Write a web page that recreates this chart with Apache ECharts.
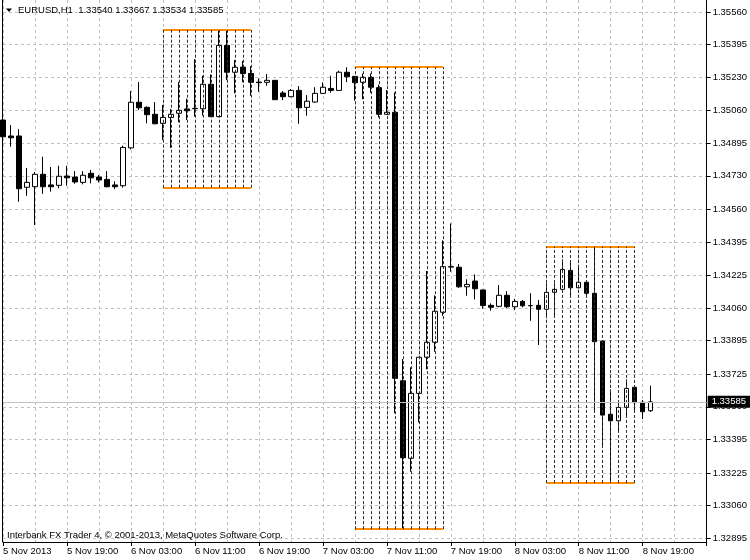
<!DOCTYPE html>
<html>
<head>
<meta charset="utf-8">
<script src="https://cdn.jsdelivr.net/npm/echarts@6/dist/echarts.min.js"></script>
<style>html,body{margin:0;padding:0;background:#fff}#c{width:750px;height:560px}</style>
</head>
<body>
<div id="c"></div>
<script>
const categories = [
'5 Nov 11:00','5 Nov 12:00','5 Nov 13:00','5 Nov 14:00','5 Nov 15:00','5 Nov 16:00','5 Nov 17:00','5 Nov 18:00','5 Nov 19:00','5 Nov 20:00','5 Nov 21:00','5 Nov 22:00','5 Nov 23:00',
'6 Nov 00:00','6 Nov 01:00','6 Nov 02:00','6 Nov 03:00','6 Nov 04:00','6 Nov 05:00','6 Nov 06:00','6 Nov 07:00','6 Nov 08:00','6 Nov 09:00','6 Nov 10:00','6 Nov 11:00',
'6 Nov 12:00','6 Nov 13:00','6 Nov 14:00','6 Nov 15:00','6 Nov 16:00','6 Nov 17:00','6 Nov 18:00','6 Nov 19:00','6 Nov 20:00','6 Nov 21:00','6 Nov 22:00','6 Nov 23:00',
'7 Nov 00:00','7 Nov 01:00','7 Nov 02:00','7 Nov 03:00','7 Nov 04:00','7 Nov 05:00','7 Nov 06:00','7 Nov 07:00','7 Nov 08:00','7 Nov 09:00','7 Nov 10:00','7 Nov 11:00',
'7 Nov 12:00','7 Nov 13:00','7 Nov 14:00','7 Nov 15:00','7 Nov 16:00','7 Nov 17:00','7 Nov 18:00','7 Nov 19:00','7 Nov 20:00','7 Nov 21:00','7 Nov 22:00','7 Nov 23:00',
'8 Nov 00:00','8 Nov 01:00','8 Nov 02:00','8 Nov 03:00','8 Nov 04:00','8 Nov 05:00','8 Nov 06:00','8 Nov 07:00','8 Nov 08:00','8 Nov 09:00','8 Nov 10:00','8 Nov 11:00',
'8 Nov 12:00','8 Nov 13:00','8 Nov 14:00','8 Nov 15:00','8 Nov 16:00','8 Nov 17:00','8 Nov 18:00','8 Nov 19:00','8 Nov 20:00','8 Nov 21:00','8 Nov 22:00','8 Nov 23:00',
'9 Nov 00:00','9 Nov 01:00','9 Nov 02:00','9 Nov 03:00'
];
const xTickLabels = ['5 Nov 2013','5 Nov 19:00','6 Nov 03:00','6 Nov 11:00','6 Nov 19:00','7 Nov 03:00','7 Nov 11:00','7 Nov 19:00','8 Nov 03:00','8 Nov 11:00','8 Nov 19:00'];
const yTicks = [1.32895,1.33060,1.33225,1.33395,1.33560,1.33725,1.33895,1.34060,1.34225,1.34395,1.34560,1.34730,1.34895,1.35060,1.35230,1.35395,1.35560];

const opens = [1.35013,1.34932,1.34932,1.34672,1.34675,1.34738,1.34684,1.34682,1.34729,1.34724,
1.34697,1.34743,1.34724,1.34712,1.34684,1.34680,1.34872,1.35103,1.35077,1.35042,
1.34996,1.35026,1.35047,1.35069,1.35070,1.35070,1.35194,1.35030,1.35391,1.35255,
1.35281,1.35249,1.35205,1.35204,1.35214,1.35150,1.35131,1.35163,1.35077,1.35104,
1.35148,1.35173,1.35163,1.35255,1.35234,1.35204,1.35229,1.35177,1.35042,1.35052,
1.33692,1.33299,1.33628,1.33811,1.33887,1.34039,1.34270,1.34267,1.34168,1.34197,
1.34152,1.34074,1.34069,1.34125,1.34067,1.34094,1.34073,1.34074,1.34054,1.34140,
1.34155,1.34251,1.34163,1.34191,1.34135,1.33893,1.33522,1.33489,1.33557,1.33659,
1.33583,1.33540];
const highs = [1.35033,1.34987,1.34967,1.34770,1.34749,1.34827,1.34775,1.34781,1.34781,1.34754,
1.34754,1.34760,1.34734,1.34754,1.34702,1.34883,1.35160,1.35205,1.35082,1.35104,
1.35089,1.35069,1.35205,1.35121,1.35322,1.35237,1.35244,1.35469,1.35469,1.35317,
1.35312,1.35286,1.35224,1.35246,1.35215,1.35160,1.35170,1.35185,1.35139,1.35179,
1.35204,1.35237,1.35263,1.35280,1.35236,1.35249,1.35249,1.35192,1.35165,1.35153,
1.33802,1.33760,1.33811,1.34248,1.34125,1.34403,1.34489,1.34283,1.34206,1.34231,
1.34153,1.34084,1.34177,1.34146,1.34107,1.34101,1.34135,1.34101,1.34185,1.34185,
1.34307,1.34290,1.34273,1.34202,1.34371,1.33893,1.33648,1.33594,1.33699,1.33660,
1.33594,1.33667];
const lows = [1.34857,1.34878,1.34599,1.34629,1.34481,1.34639,1.34650,1.34667,1.34680,1.34690,
1.34687,1.34692,1.34697,1.34672,1.34663,1.34670,1.34864,1.35064,1.34996,1.34992,
1.34911,1.34872,1.35001,1.35013,1.35030,1.35035,1.35030,1.35027,1.35215,1.35148,
1.35204,1.35136,1.35156,1.35187,1.35114,1.35114,1.35129,1.34994,1.35035,1.35100,
1.35145,1.35151,1.35162,1.35205,1.35111,1.35118,1.35151,1.35026,1.35041,1.33527,
1.32940,1.33231,1.33481,1.33750,1.33839,1.34021,1.34244,1.34163,1.34123,1.34104,
1.34057,1.34047,1.34064,1.34059,1.34050,1.34064,1.33996,1.33873,1.34020,1.34021,
1.34138,1.34115,1.34162,1.34115,1.33535,1.33353,1.33174,1.33442,1.33505,1.33535,
1.33498,1.33534];
const closes = [1.34928,1.34923,1.34665,1.34697,1.34738,1.34675,1.34675,1.34728,1.34720,1.34699,
1.34733,1.34720,1.34709,1.34675,1.34675,1.34874,1.35103,1.35075,1.35040,1.34994,
1.35026,1.35042,1.35062,1.35060,1.35072,1.35194,1.35030,1.35391,1.35255,1.35280,
1.35248,1.35204,1.35202,1.35214,1.35116,1.35131,1.35163,1.35075,1.35108,1.35148,
1.35179,1.35163,1.35255,1.35232,1.35202,1.35229,1.35179,1.35042,1.35052,1.33704,
1.33302,1.33628,1.33811,1.33887,1.34044,1.34270,1.34268,1.34168,1.34180,1.34158,
1.34073,1.34064,1.34125,1.34067,1.34094,1.34072,1.34072,1.34054,1.34140,1.34155,
1.34256,1.34163,1.34191,1.34135,1.33890,1.33518,1.33489,1.33557,1.33653,1.33581,
1.33535,1.33585];

const regionStart = [20, 44, 68];
const regionEnd = [31, 55, 79];
const regionHigh = [1.35469, 1.35281, 1.34372];
const regionLow = [1.34670, 1.32940, 1.33174];

const symbolName = 'EURUSD,H1';
const lastBar = { open: 1.33540, high: 1.33667, low: 1.33534, close: 1.33585 };
const copyright = 'Interbank FX Trader 4, \u00a9 2001-2013, MetaQuotes Software Corp.';

const FONT = 'Liberation Sans';
const FS = 9.5;

const candleData = opens.map((o, i) => [o, closes[i], lows[i], highs[i]]);
const lastIndex = categories.length - 1;

const regionLines = [];
regionStart.forEach((s, r) => {
  const e = regionEnd[r];
  const orange = { color: '#ff8c00', width: 2, type: 'solid' };
  regionLines.push([{ coord: [s, regionHigh[r]], lineStyle: orange }, { coord: [e, regionHigh[r]] }]);
  regionLines.push([{ coord: [s, regionLow[r]], lineStyle: orange }, { coord: [e, regionLow[r]] }]);
  for (let k = s; k <= e; k++) {
    regionLines.push([
      { coord: [k, regionLow[r]], lineStyle: { color: '#223333', width: 1, type: [3, 2] } },
      { coord: [k, regionHigh[r]] }
    ]);
  }
});

const chart = echarts.init(document.getElementById('c'));
chart.setOption({
  animation: false,
  backgroundColor: '#ffffff',
  textStyle: { fontFamily: FONT },
  grid: { left: 3, right: 43, top: 0, bottom: 18, containLabel: false },
  xAxis: {
    type: 'category',
    data: categories,
    boundaryGap: false,
    axisLine: { show: true, lineStyle: { color: '#000', width: 1 } },
    axisTick: { show: true, interval: 7, length: 4, lineStyle: { color: '#000' } },
    axisLabel: {
      interval: 7, align: 'left', margin: 4, color: '#000', fontSize: FS, fontFamily: FONT,
      formatter: (v, i) => (i % 8 === 0 && xTickLabels[i / 8]) ? xTickLabels[i / 8] : ''
    },
    splitLine: { show: true, interval: 3, lineStyle: { color: '#c0c0c0', type: [3, 3], width: 1 } }
  },
  yAxis: {
    type: 'value',
    position: 'right',
    min: 1.32875,
    max: 1.35621,
    axisLine: { show: true, onZero: false, lineStyle: { color: '#000', width: 1 } },
    axisTick: { show: true, length: 4, customValues: yTicks, lineStyle: { color: '#000' } },
    axisLabel: { customValues: yTicks, margin: 6, color: '#000', fontSize: FS, fontFamily: FONT,
      formatter: v => v.toFixed(5) },
    splitLine: { show: true, lineStyle: { color: '#c0c0c0', type: [3, 3], width: 1 } }
  },
  series: [
    {
      name: 'regions', type: 'line', data: [], z: 1, silent: true,
      markLine: { silent: true, symbol: 'none', animation: false, label: { show: false }, data: regionLines }
    },
    {
      name: 'bid', type: 'line', data: [], z: 1, silent: true,
      markLine: {
        silent: true, symbol: 'none', animation: false,
        lineStyle: { color: '#c0c0c0', type: 'solid', width: 1 },
        label: { show: true, position: 'end', distance: 1, color: '#fff', backgroundColor: '#000',
          padding: [1, 4, 1, 4], fontSize: FS, fontFamily: FONT,
          formatter: () => lastBar.close.toFixed(5) },
        data: [[{ coord: [0, lastBar.close] }, { coord: [lastIndex, lastBar.close] }]]
      }
    },
    {
      name: symbolName, type: 'candlestick', data: candleData, z: 3, barWidth: 5,
      itemStyle: { color: '#ffffff', color0: '#000000', borderColor: '#000000', borderColor0: '#000000', borderWidth: 1 }
    }
  ],
  graphic: [
    { type: 'line', shape: { x1: 2.5, y1: 0, x2: 2.5, y2: 542 }, style: { stroke: '#000', lineWidth: 1 }, z: 10 },
    { type: 'polygon', shape: { points: [[6, 8.5], [12, 8.5], [9, 12]] }, style: { fill: '#000' }, z: 10 },
    { type: 'text', x: 18, y: 10, z: 10,
      style: { text: symbolName + '  ' + [lastBar.open, lastBar.high, lastBar.low, lastBar.close].map(v => v.toFixed(5)).join(' '),
        fill: '#000', fontSize: FS, fontFamily: FONT, textVerticalAlign: 'middle' } },
    { type: 'text', x: 7, y: 535, z: 10,
      style: { text: copyright, fill: '#000', fontSize: FS, fontFamily: FONT, textVerticalAlign: 'middle' } }
  ]
});
</script>
</body>
</html>
